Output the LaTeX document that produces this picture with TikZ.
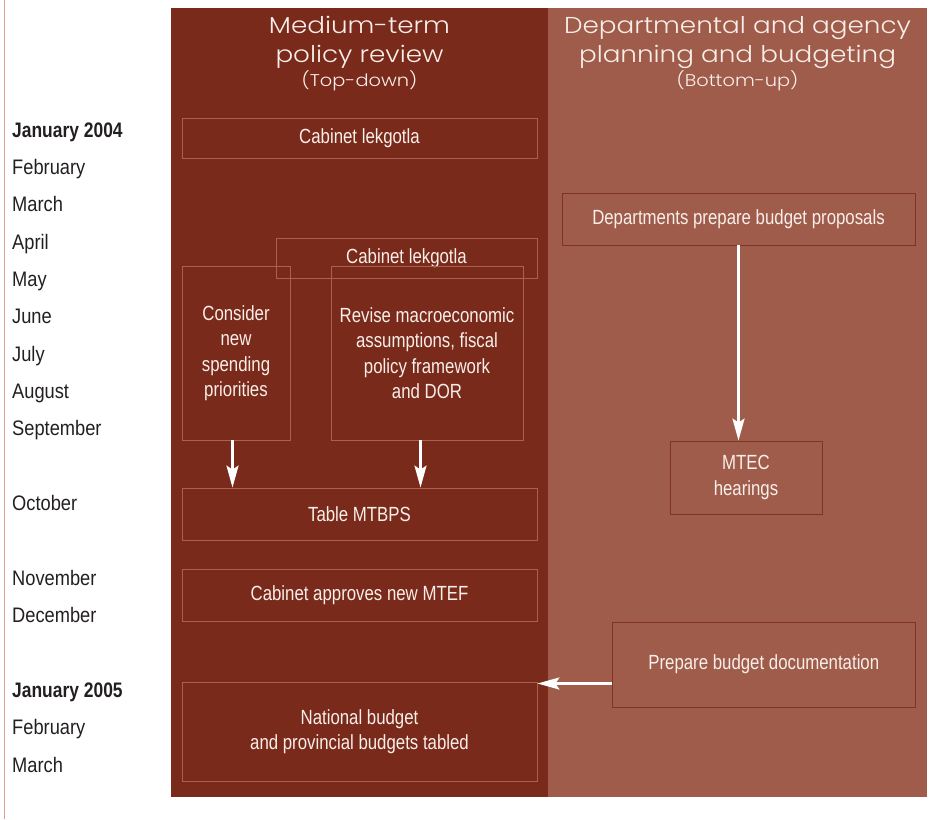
\documentclass[tikz,border=0pt]{standalone}
\usepackage{fontspec}
\usetikzlibrary{arrows.meta}
\newfontfamily\cnd[FakeStretch=0.82]{Liberation Sans}
\newfontfamily\mon[FakeStretch=0.87,BoldFeatures={FakeStretch=0.83}]{Liberation Sans}
\newfontfamily\hdr[FakeStretch=1.14]{Poppins Light}
\definecolor{darkpanel}{RGB}{122,42,26}
\definecolor{lightpanel}{RGB}{160,92,74}
\definecolor{darkedge}{RGB}{172,96,80}
\definecolor{lightedge}{RGB}{130,50,36}
\definecolor{boxtext}{RGB}{248,238,234}
\definecolor{monthtext}{RGB}{35,31,32}
\definecolor{siderule}{RGB}{222,160,150}
\tikzset{
  box/.style={draw, line width=0.8pt, inner sep=0pt, text=boxtext, align=center,
    font=\cnd\fontsize{20.5}{25.5}\selectfont},
  dbox/.style={box, draw=darkedge},
  lbox/.style={box, draw=lightedge},
  month/.style={anchor=base west, inner sep=0pt, text=monthtext,
    font=\mon\fontsize{21}{24}\selectfont},
  bmonth/.style={month, font=\mon\bfseries\fontsize{21}{24}\selectfont},
  head/.style={anchor=base, inner sep=0pt, text=boxtext,
    font=\hdr\fontsize{23}{27}\selectfont},
  subhead/.style={head, font=\hdr\fontsize{17}{20}\selectfont},
  arr/.style={draw=white, line width=2.7pt, -{Stealth[length=22pt,width=12pt,inset=4pt]}}
}
\begin{document}
\begin{tikzpicture}[x=1pt,y=-1pt]
\useasboundingbox (0,0) rectangle (950,819);
% side rule and the two column panels
\draw[siderule, line width=1pt] (4.5,0) -- (4.5,819);
\fill[darkpanel] (171,8) rectangle (548,797);
\fill[lightpanel] (548,8) rectangle (927,797);

% column headings
\node[head] (ha1) at (359.5,33) {Medium-term};
\node[head] (ha2) at (359.5,62) {policy review};
\node[subhead] (ha3) at (359.5,86) {(Top-down)};
\node[head] (hb1) at (737.5,33) {Departmental and agency};
\node[head] (hb2) at (737.5,62) {planning and budgeting};
\node[subhead] (hb3) at (737.5,86) {(Bottom-up)};

% months
\node[bmonth] (m1) at (12,137.5) {January 2004};
\node[month] (m2) at (12,174.5) {February};
\node[month] (m3) at (12,211.5) {March};
\node[month] (m4) at (12,249.5) {April};
\node[month] (m5) at (12,286.5) {May};
\node[month] (m6) at (12,323.5) {June};
\node[month] (m7) at (12,361.5) {July};
\node[month] (m8) at (12,398.5) {August};
\node[month] (m9) at (12,435.5) {September};
\node[month] (m10) at (12,510.5) {October};
\node[month] (m11) at (12,585.5) {November};
\node[month] (m12) at (12,622.5) {December};
\node[bmonth] (m13) at (12,697.5) {January 2005};
\node[month] (m14) at (12,734.5) {February};
\node[month] (m15) at (12,772.5) {March};

% top-down boxes
\node[dbox, minimum width=355, minimum height=40] (cl1) at (359.5,138) {Cabinet lekgotla};
\node[dbox, minimum width=261, minimum height=40] (cl2) at (406.5,258) {Cabinet lekgotla};
\node[dbox, minimum width=108, minimum height=174] (cons) at (236,353) {Consider\\new\\spending\\priorities};
\node[dbox, minimum width=192, minimum height=174] (rev) at (427,353) {Revise macroeconomic\\assumptions, fiscal\\policy framework\\and DOR};
\node[dbox, minimum width=355, minimum height=52] (tab) at (359.5,514) {Table MTBPS};
\node[dbox, minimum width=355, minimum height=52] (appr) at (359.5,595) {Cabinet approves new MTEF};
\node[dbox, minimum width=355, minimum height=99] (nat) at (359.5,731.5) {National budget\\and provincial budgets tabled};

% bottom-up boxes
\node[lbox, minimum width=353, minimum height=52] (dep) at (738.5,219) {Departments prepare budget proposals};
\node[lbox, minimum width=152, minimum height=73] (mtec) at (746,477.5) {MTEC\\hearings};
\node[lbox, minimum width=303, minimum height=85] (prep) at (763.8,664.5) {Prepare budget documentation};

% connectors
\draw[arr] (dep.south) -- (dep.south |- mtec.north);
\draw[arr] ([xshift=-3.5pt]cons.south) -- ([xshift=-3.5pt]cons.south |- tab.north);
\draw[arr] ([xshift=-6.5pt]rev.south) -- ([xshift=-6.5pt]rev.south |- tab.north);
\draw[arr] ([yshift=-19pt]prep.west) -- ([yshift=-19pt]prep.west -| nat.east);
\end{tikzpicture}
\end{document}
